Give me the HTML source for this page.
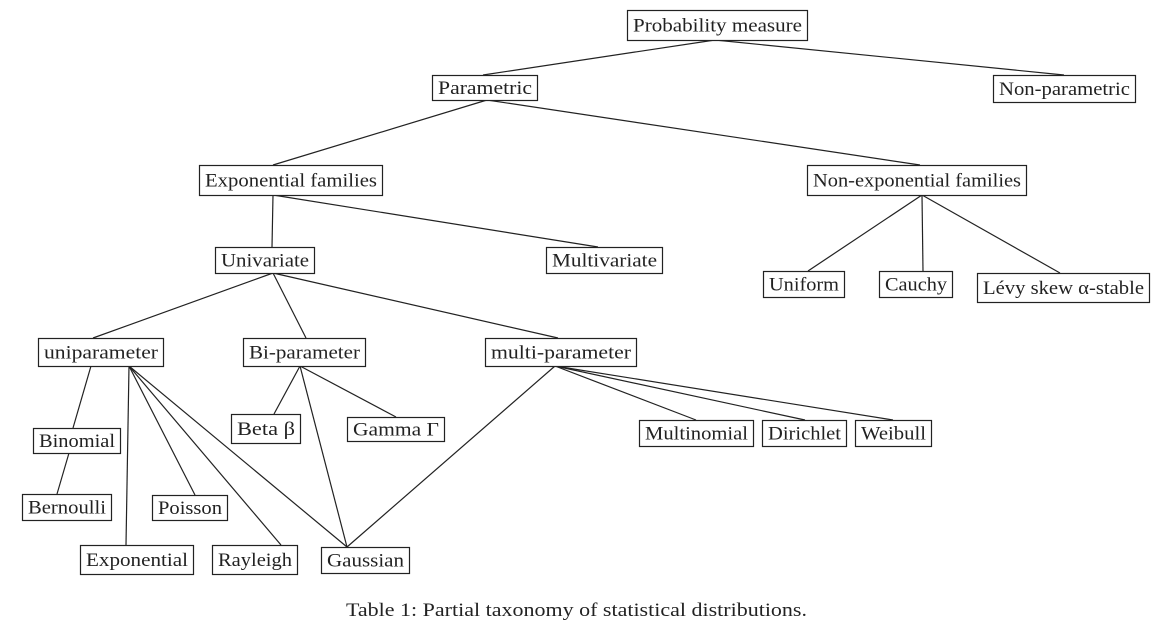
<!DOCTYPE html>
<html><head><meta charset="utf-8"><style>
html,body{margin:0;padding:0;background:#fff;}
svg{display:block;font-family:"Liberation Serif",serif;}
</style></head><body>
<svg width="1158" height="631" viewBox="0 0 1158 631">
<g id="edges" stroke="#222" stroke-width="1.2" fill="none"></g>
<g id="nodes"></g>
<text x="346" y="616" font-size="19" textLength="461" lengthAdjust="spacingAndGlyphs" fill="#222">Table 1: Partial taxonomy of statistical distributions.</text>
</svg>
<script>
const nodeLabels=["Probability measure","Parametric","Non-parametric","Exponential families","Non-exponential families","Univariate","Multivariate","Uniform","Cauchy","Lévy skew α-stable","uniparameter","Bi-parameter","multi-parameter","Binomial","Beta β","Gamma Γ","Bernoulli","Poisson","Exponential","Rayleigh","Gaussian","Multinomial","Dirichlet","Weibull"];
const nodeBoxes=[[627,10,807,40],[432,75,537,100],[993,75,1135,102],[199,165,382,195],[807,165,1026,195],[215,247,314,273],[546,247,662,273],[763,271,844,297],[879,271,952,297],[977,273,1149,302],[38,338,163,366],[243,338,365,366],[485,338,636,366],[33,428,120,453],[231,414,300,443],[347,417,444,441],[22,494,111,520],[152,495,227,520],[80,545,193,574],[212,545,297,574],[321,547,409,573],[639,420,753,446],[762,420,846,446],[855,420,931,446]];
const edgeLines=[[715,40,483,75],[715,40,1064,75],[487,100,273,165],[487,100,920,165],[273,195,272,247],[273,195,598,247],[922,195,808,271],[922,195,923,271],[922,195,1060,273],[273,273,93,338],[273,273,306,338],[273,273,558,338],[91,366,73,428],[69,453,57,494],[129,366,126,545],[129,366,195,495],[129,366,281,545],[129,366,347,547],[300,366,274,414],[300,366,396,417],[300,366,347,547],[555,366,347,547],[555,366,696,420],[555,366,805,420],[555,366,893,420]];
const NS="http://www.w3.org/2000/svg";
const eg=document.getElementById('edges');
edgeLines.forEach(e=>{const l=document.createElementNS(NS,'line');
l.setAttribute('x1',e[0]);l.setAttribute('y1',e[1]);l.setAttribute('x2',e[2]);l.setAttribute('y2',e[3]);


eg.appendChild(l);});
const ng=document.getElementById('nodes');
nodeLabels.forEach((t,i)=>{const b=nodeBoxes[i];const g=document.createElementNS(NS,'g');


const r=document.createElementNS(NS,'rect');
r.setAttribute('x',b[0]+0.5);r.setAttribute('y',b[1]+0.5);r.setAttribute('width',b[2]-b[0]);r.setAttribute('height',b[3]-b[1]);
r.setAttribute('fill','#fff');r.setAttribute('stroke','#222');r.setAttribute('stroke-width','1.2');
const tx=document.createElementNS(NS,'text');
tx.setAttribute('x',b[0]+6);tx.setAttribute('y',(b[1]+b[3])/2+6.5);
tx.setAttribute('font-size','19');tx.setAttribute('fill','#222');
tx.setAttribute('textLength',b[2]-b[0]-11);tx.setAttribute('lengthAdjust','spacingAndGlyphs');
tx.textContent=t;
g.appendChild(r);g.appendChild(tx);ng.appendChild(g);});
</script>
</body></html>
